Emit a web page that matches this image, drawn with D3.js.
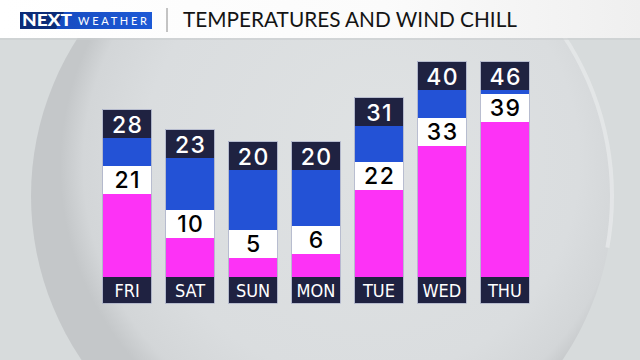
<!DOCTYPE html>
<html>
<head>
<meta charset="utf-8">
<script src="https://cdn.jsdelivr.net/npm/d3@7"></script>
<style>
  html, body { margin: 0; padding: 0; background: #d7dbdc; }
  svg { display: block; }
</style>
</head>
<body>
<div id="chart"></div>
<script>
// chart values
var days = ["FRI", "SAT", "SUN", "MON", "TUE", "WED", "THU"];
var temps = [28, 23, 20, 20, 31, 40, 46];
var windChill = [21, 10, 5, 6, 22, 33, 39];
var titleText = "TEMPERATURES AND WIND CHILL";

var width = 640, height = 360;

var svg = d3.select("#chart").append("svg")
  .attr("width", width)
  .attr("height", height);

var defs = svg.append("defs");

// background bowl
var bowl = defs.append("radialGradient")
  .attr("id", "bowl")
  .attr("cx", "0.55").attr("cy", "0.45").attr("r", "0.5")
  .attr("fx", "0.62").attr("fy", "0.4");
bowl.append("stop").attr("offset", "0%").attr("stop-color", "#dfe2e3");
bowl.append("stop").attr("offset", "75%").attr("stop-color", "#dadddf");
bowl.append("stop").attr("offset", "93%").attr("stop-color", "#d3d6d8");
bowl.append("stop").attr("offset", "100%").attr("stop-color", "#c4c7c9");

var head = defs.append("linearGradient").attr("id", "head")
  .attr("x1", 0).attr("x2", 1).attr("y1", 0).attr("y2", 0);
head.append("stop").attr("offset", "0%").attr("stop-color", "#ffffff");
head.append("stop").attr("offset", "60%").attr("stop-color", "#fbfbfb");
head.append("stop").attr("offset", "100%").attr("stop-color", "#efefef");

var logoGrad = defs.append("linearGradient").attr("id", "logo")
  .attr("x1", 0).attr("x2", 1);
logoGrad.append("stop").attr("offset", "0%").attr("stop-color", "#1546b8");
logoGrad.append("stop").attr("offset", "100%").attr("stop-color", "#1d5ad6");

svg.append("rect")
  .attr("width", width).attr("height", height)
  .attr("fill", "#d7dbdc");

svg.append("circle")
  .attr("cx", 322).attr("cy", 196).attr("r", 291)
  .attr("fill", "url(#bowl)");

// light rim on the right
svg.append("path")
  .attr("d", d3.arc()({innerRadius: 288, outerRadius: 292, startAngle: 0.3, endAngle: 1.75}))
  .attr("transform", "translate(322,196)")
  .attr("fill", "#e4e7e8")
  .attr("opacity", 0.9);

// header band
svg.append("rect")
  .attr("width", width).attr("height", 38)
  .attr("fill", "url(#head)");
svg.append("rect")
  .attr("y", 38).attr("width", width).attr("height", 2)
  .attr("fill", "#c9cdcf").attr("opacity", 0.6);

// logo
var logo = svg.append("g");
logo.append("rect")
  .attr("x", 20).attr("y", 12).attr("width", 132).attr("height", 17)
  .attr("fill", "url(#logo)");
logo.append("path")
  .attr("d", "M20,12 L64,12 L56,29 L20,29 Z")
  .attr("fill", "#0c2c78");
logo.append("text")
  .attr("x", 22).attr("y", 25.5)
  .attr("font-family", "Lato, 'DejaVu Sans', sans-serif")
  .attr("font-weight", 900)
  .attr("font-size", 16)
  .attr("fill", "#ffffff")
  .attr("textLength", 50)
  .attr("lengthAdjust", "spacingAndGlyphs")
  .text("NEXT");
logo.append("text")
  .attr("x", 78).attr("y", 24.5)
  .attr("font-family", "Lato, 'DejaVu Sans', sans-serif")
  .attr("font-size", 11)
  .attr("fill", "#ffffff")
  .attr("textLength", 69)
  .attr("lengthAdjust", "spacing")
  .text("WEATHER");

svg.append("line")
  .attr("x1", 167).attr("x2", 167).attr("y1", 8).attr("y2", 32)
  .attr("stroke", "#8a8a8a").attr("stroke-width", 1);

svg.append("text")
  .attr("x", 183).attr("y", 27)
  .attr("font-family", "Lato, 'Open Sans', sans-serif")
  .attr("font-size", 21)
  .attr("fill", "#141414")
  .attr("textLength", 334)
  .attr("lengthAdjust", "spacingAndGlyphs")
  .text(titleText);

// scales
var x = d3.scaleBand()
  .domain(days)
  .range([103, 529])
  .paddingInner(0.236)
  .paddingOuter(0);

var y = d3.scaleLinear()
  .domain([0, 40])
  .range([250, 90])
  .clamp(true);

var boxH = 28, baseY = 277, labelH = 26;

var data = days.map(function(d, i) {
  return { day: d, temp: temps[i], chill: windChill[i] };
});

var col = svg.append("g").selectAll(".col")
  .data(data)
  .enter().append("g")
  .attr("class", "col")
  .attr("transform", function(d) { return "translate(" + x(d.day) + ",0)"; });

var bw = x.bandwidth();

// pink: below the wind chill box
col.append("rect")
  .attr("y", function(d) { return y(d.chill) + boxH; })
  .attr("width", bw)
  .attr("height", function(d) { return baseY - y(d.chill) - boxH; })
  .attr("fill", "#fd32f6");

// blue: temperature down to wind chill
col.append("rect")
  .attr("y", function(d) { return y(d.temp); })
  .attr("width", bw)
  .attr("height", function(d) { return y(d.chill) - y(d.temp); })
  .attr("fill", "#2352d6");

// white wind chill box
col.append("rect")
  .attr("y", function(d) { return y(d.chill); })
  .attr("width", bw)
  .attr("height", boxH)
  .attr("fill", "#ffffff");

// dark temperature box
col.append("rect")
  .attr("y", function(d) { return y(d.temp) - boxH; })
  .attr("width", bw)
  .attr("height", boxH)
  .attr("fill", "#1f2241");

// day label box
col.append("rect")
  .attr("y", baseY)
  .attr("width", bw)
  .attr("height", labelH)
  .attr("fill", "#1f2241");

// thin outline
col.append("rect")
  .attr("x", -0.5)
  .attr("y", function(d) { return y(d.temp) - boxH - 0.5; })
  .attr("width", bw + 1)
  .attr("height", function(d) { return baseY + labelH - y(d.temp) + boxH + 1; })
  .attr("fill", "none")
  .attr("stroke", "#9ea6c4")
  .attr("stroke-width", 0.6);

var numFont = "Inter, Lato, sans-serif";

col.append("text")
  .attr("x", bw / 2 + 0.7)
  .attr("y", function(d) { return y(d.temp) - 5.5; })
  .attr("text-anchor", "middle")
  .attr("font-family", numFont)
  .attr("font-weight", 500)
  .attr("font-size", 23)
  .attr("letter-spacing", 1.4)
  .attr("fill", "#ffffff")
  .text(function(d) { return d.temp; });

col.append("text")
  .attr("x", bw / 2 + 0.7)
  .attr("y", function(d) { return y(d.chill) + 22; })
  .attr("text-anchor", "middle")
  .attr("font-family", numFont)
  .attr("font-weight", 500)
  .attr("font-size", 23)
  .attr("letter-spacing", 1.4)
  .attr("fill", "#000000")
  .text(function(d) { return d.chill; });

col.append("text")
  .attr("x", bw / 2)
  .attr("y", baseY + 20)
  .attr("text-anchor", "middle")
  .attr("font-family", "'DejaVu Sans Condensed', 'DejaVu Sans', sans-serif")
  .attr("font-stretch", "condensed")
  .attr("font-size", 18)
  .attr("fill", "#ffffff")
  .text(function(d) { return d.day; });
</script>
</body>
</html>
